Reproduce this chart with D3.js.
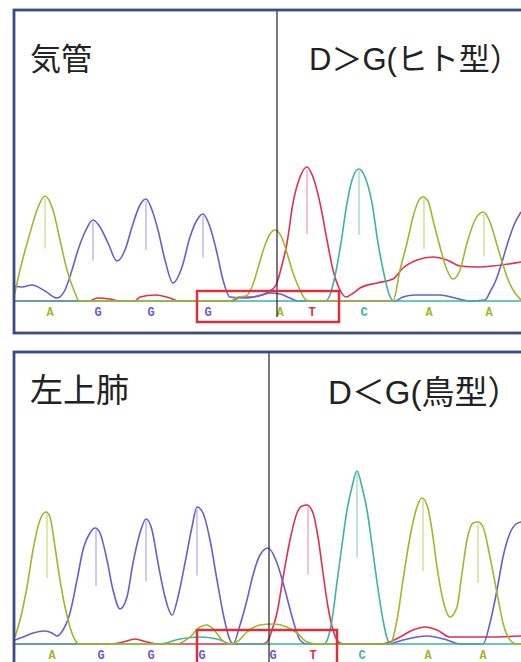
<!DOCTYPE html>
<html>
<head>
<meta charset="utf-8">
<script src="https://cdn.jsdelivr.net/npm/d3@7/dist/d3.min.js"></script>
<style>
  html, body { margin: 0; padding: 0; background: #fff; }
  svg { display: block; }
</style>
</head>
<body>
<svg id="chart" width="521" height="662"></svg>
<script>
// ---- Panel 1: 気管 — traces as [scan, intensity] ----
const tracheaA = [[0,40],[12,310],[32,680],[46,910],[62,1050],[78,910],[92,610],[106,310],[122,80],[130,0],
  [432,0],[448,40],[464,50],[476,140],[488,330],[500,530],[512,670],[522,710],[534,650],[546,480],[558,280],[572,110],[584,10],[596,0],
  [758,0],[772,310],[786,580],[798,840],[808,990],[818,1040],[828,1000],[838,810],[852,540],[866,310],[878,220],
  [892,310],[906,580],[922,810],[938,890],[952,790],[966,560],[978,360],[990,190],[1002,80],[1014,10]];
const tracheaG = [[0,150],[16,140],[36,160],[62,100],[86,30],[102,110],[116,310],[128,510],[142,690],[158,810],[172,740],[188,580],
  [206,400],[222,510],[236,740],[252,960],[264,1020],[276,910],[288,710],[302,410],[318,180],[336,340],[352,640],[366,810],[378,870],
  [392,740],[406,480],[418,210],[432,40],[462,30],[488,50],[512,80],[532,70],[552,30],[568,0],
  [762,0],[778,40],[802,60],[852,60],[882,30],[912,0],[942,10],[952,90],[964,210],[976,390],[988,590],[1000,760],[1014,890]];
const tracheaT = [[0,0],[152,0],[166,30],[192,20],[212,0],[242,0],[252,40],[282,60],[312,30],[328,0],
  [436,0],[452,40],[472,40],[496,60],[512,100],[524,160],[536,360],[546,580],[558,980],[572,1240],[586,1340],
  [598,1240],[612,980],[626,610],[638,310],[652,110],[664,40],[676,70],[692,130],[726,180],[758,220],[778,330],
  [806,410],[838,440],[866,410],[892,350],[926,340],[958,350],[1014,390]];
const tracheaC = [[0,0],[622,0],[632,60],[642,250],[654,580],[666,980],[678,1240],[690,1320],[702,1240],[716,980],
  [728,580],[740,270],[750,70],[760,0],[1014,0]];
// base calls: [base, scan, peak intensity]; the call under the cursor has no tick
const tracheaCalls = [["A",62,1050],["G",158,810],["G",264,1020],["G",378,870],["A",522,null],
  ["T",586,1340],["C",690,1320],["A",820,1040],["A",940,890]];
const tracheaCursor = 526;
const tracheaBox = [366, 650];

// ---- Panel 2: 左上肺 ----
const lungA = [[2,70],[12,240],[26,570],[38,940],[52,1240],[64,1320],[72,1270],[82,970],[92,640],[102,370],[112,170],[122,40],[130,0],
  [326,0],[352,70],[372,170],[386,190],[400,140],[416,40],[432,0],
  [448,30],[466,120],[492,190],[518,200],[546,170],[566,110],[586,20],[608,0],
  [752,0],[766,240],[778,640],[792,1070],[806,1370],[816,1460],[826,1390],[836,1140],[846,770],[858,440],[872,270],
  [886,370],[896,710],[906,1040],[918,1210],[928,1220],[938,1170],[952,870],[966,510],[978,210],[992,40],[1006,0],[1014,0]];
const lungG = [[2,40],[18,70],[38,110],[62,130],[76,110],[86,80],[98,140],[112,310],[126,640],[138,940],[152,1110],[162,1160],
  [172,1110],[186,840],[198,540],[212,350],[226,470],[238,810],[252,1110],[264,1250],[276,1140],[288,810],[302,470],[316,290],
  [328,470],[342,810],[356,1170],[366,1370],[378,1310],[392,1040],[406,640],[418,310],[432,40],[438,0],
  [452,190],[466,440],[478,690],[492,890],[508,960],[526,810],[542,540],[558,240],[572,40],[586,0],
  [748,0],[778,40],[826,80],[866,40],[892,0],[938,0],[952,210],[966,540],[978,870],[992,1110],[1004,1200],[1014,1220]];
const lungT = [[0,0],[192,0],[218,20],[242,50],[266,20],[292,0],
  [496,0],[506,20],[516,140],[526,310],[538,660],[552,1040],[566,1310],[576,1380],[586,1390],[598,1310],[608,1070],
  [618,710],[628,370],[638,140],[652,10],[662,0],
  [732,0],[752,20],[772,70],[798,140],[822,170],[846,140],[872,70],[902,70],[958,70],[1014,80]];
const lungC = [[0,0],[292,0],[332,50],[372,70],[406,50],[436,0],
  [620,0],[628,60],[636,240],[646,620],[656,990],[666,1340],[676,1570],[686,1730],[696,1570],[706,1340],[716,990],
  [726,620],[738,240],[746,60],[754,0],[1014,0]];
const lungCalls = [["A",66,1320],["G",164,1160],["G",264,1250],["G",366,1370],["G",508,null],
  ["T",588,1390],["C",686,1730],["A",818,1460],["A",928,1220]];
const lungCursor = 510;
const lungBox = [366, 646];

const titles = ["気管", "左上肺"];
const genotypes = ["D＞G(ヒト型）", "D＜G(鳥型）"];

// ---- styling ----
const baseColor = { A: "#a3b52a", G: "#6a5cd2", T: "#e0304c", C: "#3fb2a6" };
const tickColor = { A: "#cddb86", G: "#b4aeee", T: "#f2a2b6", C: "#9ad8d0" };

const layout = [
  { frameTop: 10, baseline: 301, frameBottom: 333, titleY: 70, titleSize: 31, genoX: 309, genoY: 70, cursorBottom: 317, boxTop: 291, boxBottom: 322 },
  { frameTop: 352, baseline: 644, frameBottom: 680, titleY: 402, titleSize: 33, genoX: 328, genoY: 404, cursorBottom: 670, boxTop: 630, boxBottom: 680 }
];

const panelData = [
  { traces: { C: tracheaC, G: tracheaG, A: tracheaA, T: tracheaT }, calls: tracheaCalls, cursor: tracheaCursor, box: tracheaBox },
  { traces: { C: lungC, G: lungG, A: lungA, T: lungT }, calls: lungCalls, cursor: lungCursor, box: lungBox }
];

const svg = d3.select("#chart");
const x = d3.scaleLinear().domain([0, 1014]).range([14, 521]);

panelData.forEach((pd, i) => {
  const L = layout[i];
  const y = d3.scaleLinear().domain([0, 2900]).range([L.baseline, L.baseline - 290]);
  const g = svg.append("g");

  const line = d3.line()
    .x(d => x(d[0]))
    .y(d => y(d[1]))
    .curve(d3.curveMonotoneX);

  // traces, red underneath so the flat baseline reads cyan / olive
  ["T", "G", "C", "A"].forEach(b => {
    g.append("path")
      .attr("d", line(pd.traces[b]))
      .attr("fill", "none")
      .attr("stroke", baseColor[b])
      .attr("stroke-width", 1.6)
      .attr("stroke-linejoin", "round");
  });

  // peak ticks (peak down to half height)
  g.selectAll(".tick").data(pd.calls.filter(c => c[2] !== null)).join("line")
    .attr("x1", d => x(d[1])).attr("x2", d => x(d[1]))
    .attr("y1", d => y(d[2]) + 2).attr("y2", d => y(d[2] / 2))
    .attr("stroke", d => tickColor[d[0]])
    .attr("stroke-width", 1.3);

  // base call letters
  g.selectAll(".call").data(pd.calls).join("text")
    .attr("x", d => x(d[1]) + 5)
    .attr("y", L.baseline + 15)
    .attr("text-anchor", "middle")
    .attr("font-family", "'Liberation Mono', 'DejaVu Sans Mono', monospace")
    .attr("font-size", 12)
    .attr("font-weight", "bold")
    .attr("fill", d => baseColor[d[0]])
    .text(d => d[0]);

  // cursor line
  g.append("line")
    .attr("x1", x(pd.cursor)).attr("x2", x(pd.cursor))
    .attr("y1", L.frameTop).attr("y2", L.cursorBottom)
    .attr("stroke", "#222").attr("stroke-width", 1.2);

  // highlighted region
  g.append("rect")
    .attr("x", x(pd.box[0])).attr("y", L.boxTop)
    .attr("width", x(pd.box[1]) - x(pd.box[0]))
    .attr("height", L.boxBottom - L.boxTop)
    .attr("fill", "none")
    .attr("stroke", "#d8303c").attr("stroke-width", 2.5);

  // frame
  g.append("rect")
    .attr("x", 14).attr("y", L.frameTop)
    .attr("width", 540).attr("height", L.frameBottom - L.frameTop)
    .attr("fill", "none")
    .attr("stroke", "#3a4a8a").attr("stroke-width", 2.8);

  // titles
  g.append("text")
    .attr("x", 30).attr("y", L.titleY)
    .attr("font-family", "'Noto Sans CJK JP', sans-serif")
    .attr("font-size", L.titleSize)
    .attr("fill", "#222")
    .text(titles[i]);

  g.append("text")
    .attr("x", L.genoX).attr("y", L.genoY)
    .attr("font-family", "'Liberation Sans', 'Noto Sans CJK JP', sans-serif")
    .attr("font-size", L.titleSize)
    .attr("fill", "#222")
    .text(genotypes[i]);
});
</script>
</body>
</html>
